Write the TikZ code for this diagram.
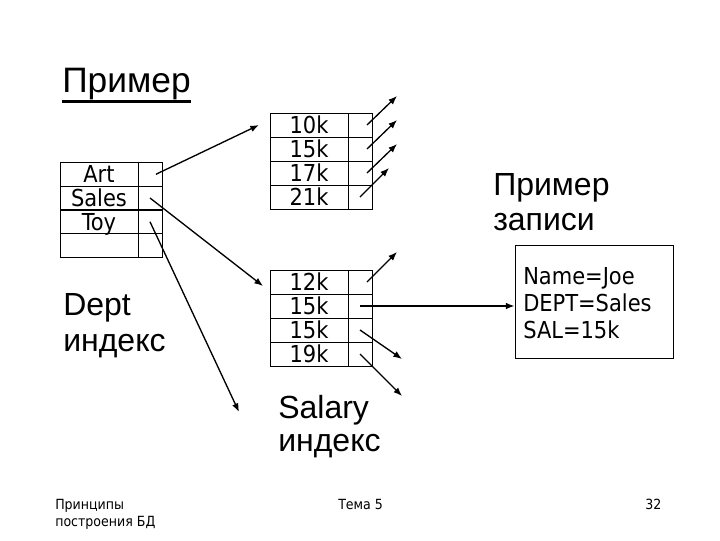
\documentclass[tikz,border=0pt]{standalone}
\usepackage{fontspec}
\setmainfont{Liberation Sans}
\newfontfamily\cellfont{DejaVu Sans Condensed}
\usetikzlibrary{arrows.meta,positioning}

\begin{document}
\begin{tikzpicture}[x=0.75pt,y=-0.75pt,
  keycell/.style={draw,line width=0.75pt,minimum width=58.5pt,minimum height=18pt,
    inner sep=0pt,text height=12.8pt,text depth=0pt,font=\cellfont\fontsize{17.5}{18}\selectfont},
  ptrcell/.style={draw,line width=0.75pt,minimum width=18pt,minimum height=18pt,inner sep=0pt},
  ptr/.style={line width=1pt,-{Latex[length=6.5pt,width=5pt]}},
  biglabel/.style={anchor=base west,inner sep=0pt,font=\fontsize{24}{27}\selectfont},
  foot/.style={anchor=base west,inner sep=0pt,align=left,font=\cellfont\fontsize{10.5}{12.75}\selectfont}]

  % Fond
  \fill[white] (0,0) rectangle (720,540);
  \useasboundingbox (0,0) rectangle (720,540);

  % Titre
  \node[anchor=base west,inner sep=0pt,font=\fontsize{26.5}{30}\selectfont] (ttl) at (62,92) {Пример};
  \draw[line width=2pt] ([yshift=-1.5pt]ttl.south west) -- ([yshift=-1.5pt]ttl.south east);

  % Index Dept
  \foreach \t [count=\i] in {Art,Sales,Toy,{}} {
    \node[keycell] (dk\i) at (99,{150.5+23.75*\i}) {\t};
    \node[ptrcell] (dp\i) at (150,{150.5+23.75*\i}) {};
  }

  % Index Salary (deux feuilles)
  \foreach \t [count=\i] in {10k,15k,17k,21k} {
    \node[keycell] (sk\i) at (309,{101+24*\i}) {\t};
    \node[ptrcell] (sp\i) at (360,{101+24*\i}) {};
  }
  \foreach \t [count=\i] in {12k,15k,15k,19k} {
    \node[keycell] (tk\i) at (309,{258+24*\i}) {\t};
    \node[ptrcell] (tp\i) at (360,{258+24*\i}) {};
  }

  % Enregistrement
  \node[draw,line width=0.75pt,minimum width=118.5pt,minimum height=84.75pt,inner sep=0pt] (rec) at (594,301.5) {};
  \node[anchor=base west,inner sep=0pt,align=left,font=\cellfont\fontsize{17.5}{20}\selectfont] (rectxt) at (523,338)
    {Name=Joe\\DEPT=Sales\\SAL=15k};

  % Etiquettes
  \node[biglabel] (exA) at (493,195) {Пример};
  \node[biglabel] (exB) at (493,230) {записи};
  \node[biglabel] (deptA) at (63,315) {Dept};
  \node[biglabel] (deptB) at (63,351) {индекс};
  \node[biglabel] (salA) at (278,418) {Salary};
  \node[biglabel] (salB) at (278,451) {индекс};

  % Pointeurs Dept
  \coordinate (toS1) at (259,125);
  \coordinate (toS2) at (263,286);
  \coordinate (toS3) at (239,412);
  \draw[ptr] ([xshift=4.5pt]dp1.center) -- (toS1);
  \draw[ptr] (dp2.center) -- (toS2);
  \draw[ptr] (dp3.center) -- (toS3);

  % Pointeurs Salary
  \foreach \i in {1,2,3} \draw[ptr] ([xshift=5.25pt]sp\i.center) -- ++(30,-29);
  \draw[ptr] (sp4.center) -- ++(29,-29);
  \draw[ptr] ([xshift=5.25pt]tp1.center) -- ++(30,-30);
  \draw[ptr] (tp2.center) -- (tp2.center -| rec.west);
  \draw[ptr] (tp3.center) -- ++(42,29);
  \draw[ptr] (tp4.center) -- ++(42,42);

  % Pied de page
  \node[foot] (ftl) at (55,526) {Принципы\\построения БД};
  \node[foot] (ftc) at (338,509) {Тема 5};
  \node[foot] (ftr) at (645,509) {32};
\end{tikzpicture}
\end{document}
